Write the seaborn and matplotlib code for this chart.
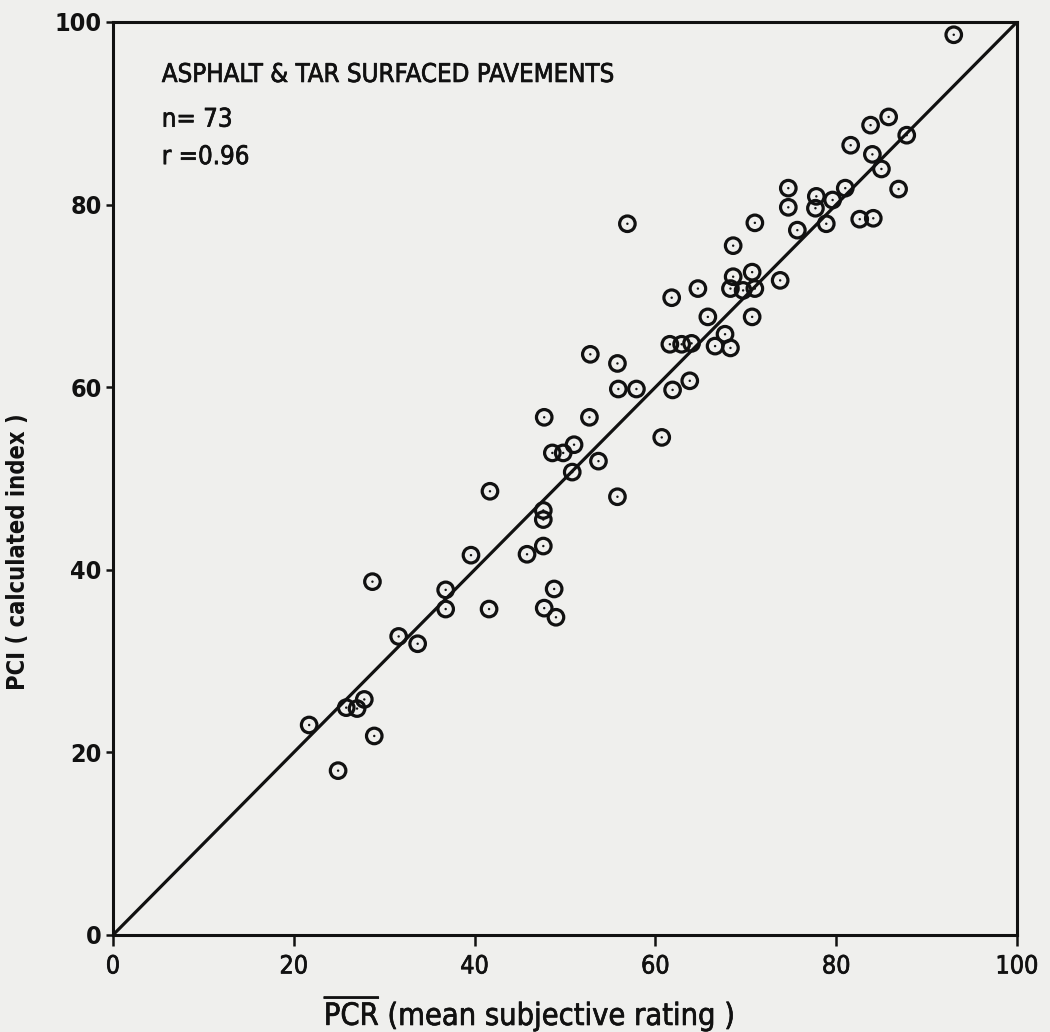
import matplotlib
matplotlib.use("Agg")
import matplotlib.pyplot as plt
import matplotlib.patheffects as pe
import seaborn as sns
import pandas as pd

# Mean subjective rating (PCR) and calculated condition index (PCI) per section
pcr = [93.0, 85.8, 83.8, 87.8, 81.6, 84.0, 85.0, 86.9, 74.7, 74.7,
       77.8, 77.7, 79.6, 81.0, 82.6, 84.1, 78.9, 75.7, 71.0,
       56.9, 68.6, 70.7, 68.6, 68.3, 69.7, 71.0, 73.8, 64.7, 61.8,
       70.7, 65.8, 67.7, 66.6, 68.3, 61.6, 62.9, 64.0, 55.8, 55.9,
       57.9, 61.9, 63.8,
       52.8, 47.7, 52.7, 60.7, 48.6, 49.8, 51.0, 53.7, 50.8, 41.7,
       55.8, 47.6, 47.6, 39.6, 45.8, 47.6, 36.8, 48.8, 36.8, 41.6,
       47.7, 49.0,
       28.7, 31.6, 33.7, 27.8, 25.8, 27.0, 21.7, 28.9, 24.9]
pci = [98.6, 89.6, 88.7, 87.6, 86.5, 85.5, 83.9, 81.7, 81.8, 79.7,
       80.9, 79.6, 80.5, 81.8, 78.4, 78.5, 77.9, 77.2, 78.0,
       77.9, 75.5, 72.6, 72.1, 70.8, 70.6, 70.8, 71.7, 70.8, 69.8,
       67.7, 67.7, 65.8, 64.5, 64.3, 64.7, 64.7, 64.8, 62.6, 59.8,
       59.8, 59.7, 60.7,
       63.6, 56.7, 56.7, 54.5, 52.8, 52.8, 53.7, 51.9, 50.7, 48.6,
       48.0, 46.5, 45.5, 41.6, 41.7, 42.6, 37.8, 37.9, 35.7, 35.7,
       35.8, 34.8,
       38.7, 32.7, 31.9, 25.8, 24.9, 24.8, 23.0, 21.8, 18.0]

# Line of equality
equal_x = [0, 100]
equal_y = [0, 100]

tick_values = [0, 20, 40, 60, 80, 100]
tick_labels = ["0", "20", "40", "60", "80", "100"]

title_text = "ASPHALT & TAR SURFACED PAVEMENTS"
n_text = "n= 73"
r_text = "r =0.96"

df = pd.DataFrame({"PCR": pcr, "PCI": pci})

sns.set_theme(style="white")
font = "DejaVu Sans"
plt.rcParams["font.family"] = [font]
plt.rcParams["font.stretch"] = "condensed"
plt.rcParams["mathtext.fontset"] = "custom"
plt.rcParams["mathtext.rm"] = font
plt.rcParams["mathtext.bf"] = font + ":bold"

paper = "#efefed"
ink = "#111111"
heavy = [pe.withStroke(linewidth=0.5, foreground=ink)]

fig = plt.figure(figsize=(10.5, 10.32), dpi=100, facecolor=paper)
ax = fig.add_axes([0.1076, 0.0940, 0.8610, 0.8847])
ax.set_facecolor(paper)

ax.plot(equal_x, equal_y, color=ink, lw=2.3, zorder=2)

# Open circles with a centre dot
sns.scatterplot(data=df, x="PCR", y="PCI", ax=ax, marker="o", s=125,
                facecolor="none", edgecolor=ink, linewidth=2.3, zorder=3)
sns.scatterplot(data=df, x="PCR", y="PCI", ax=ax, marker="o", s=3,
                color=ink, edgecolor="none", zorder=4)

ax.set_xlim(0, 100)
ax.set_ylim(0, 100)
ax.set_xticks(tick_values)
ax.set_xticklabels(tick_labels)
ax.set_yticks(tick_values)
ax.set_yticklabels(tick_labels)

for side in ["left", "right", "top", "bottom"]:
    ax.spines[side].set_visible(True)
    ax.spines[side].set_color(ink)
    ax.spines[side].set_linewidth(2.2)

ax.tick_params(axis="x", direction="out", length=8, width=1.8, color=ink,
               labelsize=18, labelcolor=ink, pad=6, bottom=True)
ax.tick_params(axis="y", direction="out", length=5, width=1.8, color=ink,
               labelsize=18, labelcolor=ink, pad=3, left=True)
for lbl in ax.get_yticklabels():
    lbl.set_fontweight("bold")
for lbl in ax.get_xticklabels():
    lbl.set_path_effects(heavy)

ax.set_xlabel(r"$\overline{\mathrm{PCR}}$ (mean subjective rating )",
              fontsize=22, color=ink, labelpad=10)
ax.xaxis.label.set_path_effects(heavy)
ax.set_ylabel("PCI ( calculated index )", fontsize=17, fontweight="bold",
              color=ink)
ax.xaxis.set_label_coords(0.46, -0.064)
ax.yaxis.set_label_coords(-0.092, 0.42)

for y, s in [(94.2, title_text), (89.3, n_text), (85.2, r_text)]:
    ax.text(5.4, y, s, fontsize=18.5, color=ink, va="center", ha="left",
            path_effects=heavy)

fig.savefig("out.png", dpi=100, facecolor=paper)
